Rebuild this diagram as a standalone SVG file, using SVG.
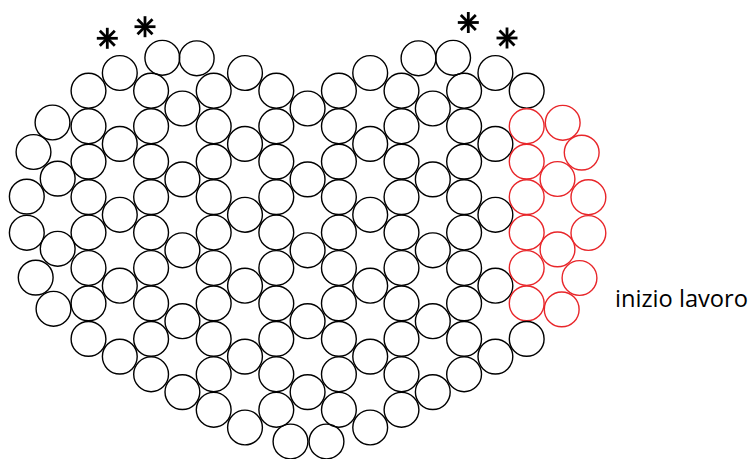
<svg xmlns="http://www.w3.org/2000/svg" width="751" height="459" viewBox="0 0 751 459">
<style>
circle{fill:none;stroke:#000;stroke-width:1.4}
circle.r{stroke:#e8262a}
.ast line{stroke:#000;stroke-width:2.8;stroke-linecap:butt}
text{font-family:"Open Sans","Noto Sans","Liberation Sans",sans-serif;font-size:23.5px;fill:#000}
</style>
<defs>
<g id="star" class="ast"><line x1="0" y1="-10.5" x2="0" y2="10.5"/><line x1="-10.5" y1="0" x2="10.5" y2="0"/><line x1="-7.5" y1="-7.5" x2="7.5" y2="7.5"/><line x1="-7.5" y1="7.5" x2="7.5" y2="-7.5"/></g>
</defs>
<rect width="751" height="459" fill="#fff"/>
<g id="beads" >
<g id="c0"><circle cx="88.5" cy="90.7" r="17.4"/><circle cx="88.5" cy="126.2" r="17.4"/><circle cx="88.5" cy="161.6" r="17.4"/><circle cx="88.5" cy="197.1" r="17.4"/><circle cx="88.5" cy="232.5" r="17.4"/><circle cx="88.5" cy="268" r="17.4"/><circle cx="88.5" cy="303.4" r="17.4"/><circle cx="88.5" cy="338.9" r="17.4"/></g>
<g id="c1"><circle cx="119.8" cy="73" r="17.4"/><circle cx="119.8" cy="143.9" r="17.4"/><circle cx="119.8" cy="214.8" r="17.4"/><circle cx="119.8" cy="285.7" r="17.4"/><circle cx="119.8" cy="356.6" r="17.4"/></g>
<g id="c2"><circle cx="151.1" cy="90.7" r="17.4"/><circle cx="151.1" cy="126.2" r="17.4"/><circle cx="151.1" cy="161.6" r="17.4"/><circle cx="151.1" cy="197.1" r="17.4"/><circle cx="151.1" cy="232.5" r="17.4"/><circle cx="151.1" cy="268" r="17.4"/><circle cx="151.1" cy="303.4" r="17.4"/><circle cx="151.1" cy="338.9" r="17.4"/><circle cx="151.1" cy="374.3" r="17.4"/></g>
<g id="c3"><circle cx="182.4" cy="108.5" r="17.4"/><circle cx="182.4" cy="179.4" r="17.4"/><circle cx="182.4" cy="250.3" r="17.4"/><circle cx="182.4" cy="321.2" r="17.4"/><circle cx="182.4" cy="392.1" r="17.4"/></g>
<g id="c4"><circle cx="213.7" cy="90.7" r="17.4"/><circle cx="213.7" cy="126.2" r="17.4"/><circle cx="213.7" cy="161.6" r="17.4"/><circle cx="213.7" cy="197.1" r="17.4"/><circle cx="213.7" cy="232.5" r="17.4"/><circle cx="213.7" cy="268" r="17.4"/><circle cx="213.7" cy="303.4" r="17.4"/><circle cx="213.7" cy="338.9" r="17.4"/><circle cx="213.7" cy="374.3" r="17.4"/><circle cx="213.7" cy="409.8" r="17.4"/></g>
<g id="c5"><circle cx="245" cy="73" r="17.4"/><circle cx="245" cy="143.9" r="17.4"/><circle cx="245" cy="214.8" r="17.4"/><circle cx="245" cy="285.7" r="17.4"/><circle cx="245" cy="356.6" r="17.4"/><circle cx="245" cy="427.5" r="17.4"/></g>
<g id="c6"><circle cx="276.3" cy="90.7" r="17.4"/><circle cx="276.3" cy="126.2" r="17.4"/><circle cx="276.3" cy="161.6" r="17.4"/><circle cx="276.3" cy="197.1" r="17.4"/><circle cx="276.3" cy="232.5" r="17.4"/><circle cx="276.3" cy="268" r="17.4"/><circle cx="276.3" cy="303.4" r="17.4"/><circle cx="276.3" cy="338.9" r="17.4"/><circle cx="276.3" cy="374.3" r="17.4"/><circle cx="276.3" cy="409.8" r="17.4"/></g>
<g id="c7"><circle cx="307.6" cy="108.5" r="17.4"/><circle cx="307.6" cy="179.4" r="17.4"/><circle cx="307.6" cy="250.3" r="17.4"/><circle cx="307.6" cy="321.2" r="17.4"/><circle cx="307.6" cy="392.1" r="17.4"/></g>
<g id="c8"><circle cx="338.9" cy="90.7" r="17.4"/><circle cx="338.9" cy="126.2" r="17.4"/><circle cx="338.9" cy="161.6" r="17.4"/><circle cx="338.9" cy="197.1" r="17.4"/><circle cx="338.9" cy="232.5" r="17.4"/><circle cx="338.9" cy="268" r="17.4"/><circle cx="338.9" cy="303.4" r="17.4"/><circle cx="338.9" cy="338.9" r="17.4"/><circle cx="338.9" cy="374.3" r="17.4"/><circle cx="338.9" cy="409.8" r="17.4"/></g>
<g id="c9"><circle cx="370.2" cy="73" r="17.4"/><circle cx="370.2" cy="143.9" r="17.4"/><circle cx="370.2" cy="214.8" r="17.4"/><circle cx="370.2" cy="285.7" r="17.4"/><circle cx="370.2" cy="356.6" r="17.4"/><circle cx="370.2" cy="427.5" r="17.4"/></g>
<g id="c10"><circle cx="401.5" cy="90.7" r="17.4"/><circle cx="401.5" cy="126.2" r="17.4"/><circle cx="401.5" cy="161.6" r="17.4"/><circle cx="401.5" cy="197.1" r="17.4"/><circle cx="401.5" cy="232.5" r="17.4"/><circle cx="401.5" cy="268" r="17.4"/><circle cx="401.5" cy="303.4" r="17.4"/><circle cx="401.5" cy="338.9" r="17.4"/><circle cx="401.5" cy="374.3" r="17.4"/><circle cx="401.5" cy="409.8" r="17.4"/></g>
<g id="c11"><circle cx="432.8" cy="108.5" r="17.4"/><circle cx="432.8" cy="179.4" r="17.4"/><circle cx="432.8" cy="250.3" r="17.4"/><circle cx="432.8" cy="321.2" r="17.4"/><circle cx="432.8" cy="392.1" r="17.4"/></g>
<g id="c12"><circle cx="464.1" cy="90.7" r="17.4"/><circle cx="464.1" cy="126.2" r="17.4"/><circle cx="464.1" cy="161.6" r="17.4"/><circle cx="464.1" cy="197.1" r="17.4"/><circle cx="464.1" cy="232.5" r="17.4"/><circle cx="464.1" cy="268" r="17.4"/><circle cx="464.1" cy="303.4" r="17.4"/><circle cx="464.1" cy="338.9" r="17.4"/><circle cx="464.1" cy="374.3" r="17.4"/></g>
<g id="c13"><circle cx="495.4" cy="73" r="17.4"/><circle cx="495.4" cy="143.9" r="17.4"/><circle cx="495.4" cy="214.8" r="17.4"/><circle cx="495.4" cy="285.7" r="17.4"/><circle cx="495.4" cy="356.6" r="17.4"/></g>
<g id="c14"><circle cx="526.7" cy="90.7" r="17.4"/><circle class="r" cx="526.7" cy="126.2" r="17.4"/><circle class="r" cx="526.7" cy="161.6" r="17.4"/><circle class="r" cx="526.7" cy="197.1" r="17.4"/><circle class="r" cx="526.7" cy="232.5" r="17.4"/><circle class="r" cx="526.7" cy="268" r="17.4"/><circle class="r" cx="526.7" cy="303.4" r="17.4"/><circle cx="526.7" cy="338.9" r="17.4"/></g>
<g id="left-edge"><circle cx="52.5" cy="122.5" r="17.4"/><circle cx="33.5" cy="152" r="17.4"/><circle cx="57.7" cy="178.6" r="17.4"/><circle cx="26.8" cy="196.6" r="17.4"/><circle cx="26.8" cy="232.8" r="17.4"/><circle cx="57.7" cy="248.8" r="17.4"/><circle cx="35.7" cy="277.6" r="17.4"/><circle cx="53.5" cy="308.8" r="17.4"/></g>
<g id="right-edge"><circle class="r" cx="562.7" cy="122.8" r="17.4"/><circle class="r" cx="581.7" cy="152.6" r="17.4"/><circle class="r" cx="557.5" cy="179" r="17.4"/><circle class="r" cx="588.4" cy="197.2" r="17.4"/><circle class="r" cx="588.4" cy="233" r="17.4"/><circle class="r" cx="557.5" cy="249.4" r="17.4"/><circle class="r" cx="579.5" cy="278" r="17.4"/><circle class="r" cx="561.7" cy="309.4" r="17.4"/></g>
<g id="top"><circle cx="162.3" cy="57.8" r="17.4"/><circle cx="196.7" cy="58.3" r="17.4"/><circle cx="418.5" cy="58.3" r="17.4"/><circle cx="453.1" cy="57.8" r="17.4"/></g>
<g id="bottom"><circle cx="290.5" cy="441.5" r="17.4"/><circle cx="326.5" cy="441.5" r="17.4"/></g>
</g>
<g id="marks">
<use href="#star" x="107.3" y="38.3"/>
<use href="#star" x="145" y="26.7"/>
<use href="#star" x="468.3" y="22.5"/>
<use href="#star" x="507" y="38"/>
</g>
<text x="615" y="306.5" textLength="133" lengthAdjust="spacingAndGlyphs">inizio lavoro</text>
</svg>
